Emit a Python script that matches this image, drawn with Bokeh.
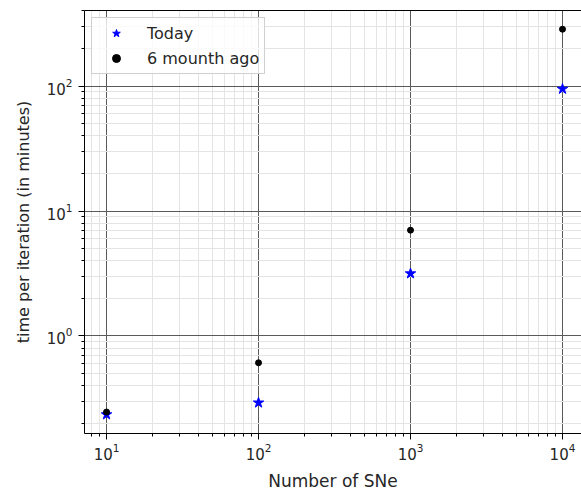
from bokeh.plotting import figure
from bokeh.models import (LogAxis, Legend, LegendItem, ColumnDataSource,
                          FixedTicker, LogTicker)
from bokeh.embed import file_html
from bokeh.resources import INLINE

# Benchmark: time per iteration vs number of supernovae
n_sne = [10, 100, 1000, 10000]
time_today = [0.235, 0.292, 3.16, 95.0]
time_6_months_ago = [0.246, 0.61, 7.03, 286.0]

x_ticks = [10, 100, 1000, 10000]
x_tick_labels = ["10¹", "10²", "10³", "10⁴"]
y_ticks = [1, 10, 100]
y_tick_labels = ["10⁰", "10¹", "10²"]

FONT = "DejaVu Sans"
TEXT = "#262626"

p = figure(
    width=581, height=493,
    x_axis_type="log", y_axis_type="log",
    x_range=(10 ** 0.855, 10 ** 4.125),
    y_range=(10 ** -0.781, 10 ** 2.606),
    output_backend="svg", toolbar_location=None,
    min_border_left=84, min_border_right=0,
    min_border_top=10, min_border_bottom=58,
)
p.outline_line_color = None

p.xaxis[0].ticker = LogTicker(desired_num_ticks=4, num_minor_ticks=10)
p.yaxis[0].ticker = LogTicker(desired_num_ticks=4, num_minor_ticks=10)
p.xaxis[0].major_label_overrides = {str(t): s for t, s in zip(x_ticks, x_tick_labels)}
p.yaxis[0].major_label_overrides = {str(t): s for t, s in zip(y_ticks, y_tick_labels)}

for ax in (p.xaxis[0], p.yaxis[0]):
    ax.major_label_text_font = FONT
    ax.major_label_text_font_size = "15px"
    ax.major_label_text_color = TEXT
    ax.axis_label_text_font = FONT
    ax.axis_label_text_font_size = "16px"
    ax.axis_label_text_font_style = "normal"
    ax.axis_label_text_color = TEXT
    ax.axis_line_color = "black"
    ax.major_tick_line_color = "black"
    ax.minor_tick_line_color = "black"
    ax.major_tick_out = 6
    ax.major_tick_in = 0
    ax.minor_tick_out = 3
    ax.minor_tick_in = 0

p.xaxis[0].axis_label = "Number of SNe"
p.xaxis[0].axis_label_text_font_size = "17px"
p.xaxis[0].major_label_standoff = 3
p.xaxis[0].axis_label_standoff = 8
p.yaxis[0].axis_label = "time per iteration (in minutes)"
p.yaxis[0].major_label_standoff = 6
p.yaxis[0].axis_label_standoff = 11

# plain top spine
top = LogAxis(ticker=FixedTicker(ticks=[]), axis_line_color="black",
              major_tick_line_color=None, minor_tick_line_color=None,
              major_label_text_color=None)
p.add_layout(top, "above")

# major + minor grid
for g in (p.xgrid[0], p.ygrid[0]):
    g.grid_line_color = "#5a5a5a"
    g.grid_line_width = 1
    g.minor_grid_line_color = "#e4e4e4"
    g.minor_grid_line_width = 1

src = ColumnDataSource(dict(n=n_sne, today=time_today, old=time_6_months_ago))
r_today = p.scatter("n", "today", source=src, marker="star", size=11,
                    color="#0000ff")
r_old = p.scatter("n", "old", source=src, marker="circle", size=6,
                  color="black")

legend = Legend(items=[LegendItem(label="Today", renderers=[r_today]),
                       LegendItem(label="6 mounth ago", renderers=[r_old])],
                location="top_left")
legend.label_text_font = FONT
legend.label_text_font_size = "16px"
legend.label_text_color = TEXT
legend.border_line_color = "#d0d0d0"
legend.border_line_alpha = 1
legend.background_fill_alpha = 0.8
legend.margin = 7
legend.padding = 5
legend.spacing = 5
legend.glyph_width = 38
legend.glyph_height = 20
legend.label_standoff = 12
legend.label_height = 20
p.add_layout(legend, "center")

open("out.html", "w").write(file_html(p, INLINE))
